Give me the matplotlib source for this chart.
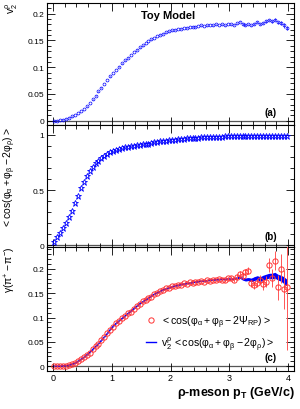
import matplotlib
import numpy as np

matplotlib.use("Agg")
import matplotlib.pyplot as plt
from matplotlib.lines import Line2D
from matplotlib.ticker import MultipleLocator, FuncFormatter


# bin centres in rho-meson pT (GeV/c), 0.05 wide
pt = np.arange(80) * 0.05 + 0.025

v2_rho = [
    0.000, 0.000, 0.001, 0.002, 0.004, 0.006, 0.008, 0.011, 0.014, 0.018,
    0.022, 0.027, 0.033, 0.040, 0.047, 0.055, 0.062, 0.069, 0.076, 0.083,
    0.089, 0.095, 0.101, 0.107, 0.113, 0.118, 0.123, 0.128, 0.133, 0.137,
    0.141, 0.145, 0.149, 0.152, 0.155, 0.158, 0.161, 0.163, 0.165, 0.167,
    0.169, 0.170, 0.171, 0.172, 0.173, 0.174, 0.175, 0.176, 0.176, 0.177,
    0.178, 0.177, 0.178, 0.179, 0.178, 0.180, 0.179, 0.180, 0.178, 0.181,
    0.180, 0.179, 0.182, 0.185, 0.181, 0.179, 0.180, 0.178, 0.181, 0.184,
    0.180, 0.183, 0.186, 0.188, 0.186, 0.189, 0.184, 0.182, 0.178, 0.173,
]
v2_err = [0.0005] * 60 + [
    0.001, 0.001, 0.001, 0.001, 0.0015, 0.0015, 0.0015, 0.0015, 0.002, 0.002,
    0.002, 0.002, 0.0025, 0.0025, 0.003, 0.003, 0.003, 0.0035, 0.004, 0.004,
]

cos_rho = [
    0.030, 0.072, 0.110, 0.155, 0.200, 0.255, 0.315, 0.380, 0.450, 0.515,
    0.575, 0.630, 0.675, 0.712, 0.742, 0.768, 0.792, 0.812, 0.828, 0.842,
    0.854, 0.864, 0.873, 0.880, 0.887, 0.893, 0.898, 0.902, 0.906, 0.910,
    0.914, 0.918, 0.922, 0.928, 0.934, 0.939, 0.943, 0.946, 0.949, 0.952,
    0.955, 0.958, 0.961, 0.964, 0.966, 0.968, 0.970, 0.972, 0.974, 0.976,
    0.977, 0.979, 0.980, 0.981, 0.982, 0.983, 0.984, 0.985, 0.986, 0.987,
    0.987, 0.988, 0.988, 0.989, 0.989, 0.990, 0.990, 0.990, 0.991, 0.991,
    0.991, 0.992, 0.992, 0.992, 0.993, 0.993, 0.993, 0.993, 0.994, 0.994,
]

gamma_calc = [
    0.000, 0.000, 0.000, 0.001, 0.001, 0.002, 0.004, 0.006, 0.010, 0.014,
    0.018, 0.023, 0.028, 0.034, 0.040, 0.046, 0.053, 0.060, 0.067, 0.075,
    0.082, 0.088, 0.093, 0.098, 0.103, 0.108, 0.113, 0.118, 0.123, 0.128,
    0.132, 0.136, 0.140, 0.144, 0.148, 0.151, 0.154, 0.157, 0.159, 0.161,
    0.163, 0.165, 0.166, 0.168, 0.169, 0.170, 0.171, 0.172, 0.173, 0.174,
    0.175, 0.175, 0.176, 0.177, 0.177, 0.178, 0.178, 0.179, 0.178, 0.180,
    0.179, 0.179, 0.181, 0.183, 0.180, 0.178, 0.179, 0.177, 0.180, 0.182,
    0.179, 0.182, 0.184, 0.186, 0.185, 0.187, 0.183, 0.181, 0.177, 0.172,
]
gamma_calc_err = [0.0008] * 62 + [
    0.002, 0.002, 0.003, 0.003, 0.003, 0.004, 0.004, 0.004, 0.005, 0.005,
    0.005, 0.005, 0.006, 0.006, 0.006, 0.006, 0.007, 0.007,
]

gamma_rp = [
    0.000, 0.000, 0.000, 0.000, 0.001, 0.002, 0.004, 0.007, 0.010, 0.014,
    0.019, 0.023, 0.028, 0.035, 0.041, 0.046, 0.054, 0.060, 0.068, 0.075,
    0.081, 0.089, 0.093, 0.099, 0.103, 0.109, 0.112, 0.118, 0.124, 0.127,
    0.133, 0.136, 0.141, 0.143, 0.149, 0.150, 0.155, 0.156, 0.160, 0.161,
    0.164, 0.164, 0.167, 0.167, 0.170, 0.169, 0.172, 0.171, 0.174, 0.173,
    0.176, 0.174, 0.177, 0.176, 0.178, 0.177, 0.179, 0.178, 0.177, 0.181,
    0.181, 0.178, 0.184, 0.190, 0.186, 0.193, 0.196, 0.170, 0.166, 0.171,
    0.178, 0.168, 0.174, 0.208, 0.181, 0.217, 0.162, 0.200, 0.158, 0.163,
]
gamma_rp_err = [0.001] * 50 + [
    0.0015, 0.0015, 0.0015, 0.002, 0.002, 0.002, 0.0025, 0.0025, 0.003, 0.003,
    0.004, 0.004, 0.005, 0.005, 0.006, 0.006, 0.007, 0.008, 0.008, 0.009,
    0.010, 0.011, 0.012, 0.015, 0.018, 0.020, 0.025, 0.030, 0.040, 0.130,
]

plt.rcParams["font.family"] = ["Liberation Sans", "DejaVu Sans"]
plt.rcParams["mathtext.fontset"] = "custom"
plt.rcParams["mathtext.rm"] = "Liberation Sans"
plt.rcParams["mathtext.it"] = "Liberation Sans:italic"
plt.rcParams["mathtext.bf"] = "Liberation Sans:bold"

W, H = 300, 410
fig = plt.figure(figsize=(W / 100, H / 100), dpi=100, facecolor="white")


def px_axes(top, bottom):
    return fig.add_axes([47 / W, 1 - bottom / H, (294 - 47) / W, (bottom - top) / H])


ax_a = px_axes(4, 126)
ax_b = px_axes(126, 248)
ax_c = px_axes(248, 372)

fmt = FuncFormatter(lambda v, p: "%g" % round(v, 4))

for ax, ylim, major, minor in [
    (ax_a, (-0.008, 0.22), 0.05, 0.01),
    (ax_b, (-0.015, 1.09), 0.5, 0.1),
    (ax_c, (-0.01, 0.245), 0.05, 0.01),
]:
    ax.set_xlim(-0.1, 4.1)
    ax.set_ylim(*ylim)
    ax.axhline(0, color="#555555", lw=0.9, zorder=1)
    ax.xaxis.set_major_locator(MultipleLocator(1))
    ax.xaxis.set_minor_locator(MultipleLocator(0.2))
    ax.yaxis.set_major_locator(MultipleLocator(major))
    ax.yaxis.set_minor_locator(MultipleLocator(minor))
    ax.yaxis.set_major_formatter(fmt)
    ax.tick_params(which="both", direction="in", top=True, right=True, width=0.6,
                   labelsize=6, pad=2, colors="black")
    ax.tick_params(which="major", length=6)
    ax.tick_params(which="minor", length=3)
    for s in ax.spines.values():
        s.set_linewidth(0.8)
    if ax is not ax_c:
        ax.tick_params(labelbottom=False)

# (a) v2 of the rho
ax_a.errorbar(pt, v2_rho, yerr=v2_err, fmt="o", ms=2.1, mfc="none", mec="blue",
              mew=0.5, ecolor="blue", elinewidth=0.5, capsize=0, zorder=3)
ax_a.text(0.38, 0.90, "Toy Model", transform=ax_a.transAxes, fontsize=8,
          fontweight="bold", ha="left", va="center")
ax_a.text(0.93, 0.107, "(a)", transform=ax_a.transAxes, fontsize=7,
          fontweight="bold", ha="right", va="center")

# (b) <cos(phi_a + phi_b - 2 phi_rho)>
ax_b.plot(pt, cos_rho, linestyle="none", marker="*", ms=4.8, mfc="none",
          mec="blue", mew=0.6, zorder=3)
ax_b.text(0.93, 0.09, "(b)", transform=ax_b.transAxes, fontsize=7,
          fontweight="bold", ha="right", va="center")

# (c) gamma correlator
lo = np.array(gamma_calc) - np.array(gamma_calc_err)
hi = np.array(gamma_calc) + np.array(gamma_calc_err)
ax_c.fill_between(pt, lo, hi, color="blue", lw=0, zorder=2)
ax_c.plot(pt, gamma_calc, color="blue", lw=1.0, zorder=3)
ax_c.errorbar(pt, gamma_rp, yerr=gamma_rp_err, fmt="o", ms=3.8,
              mfc="none", mec="#ff3333", mew=0.7, ecolor="#ff5555",
              elinewidth=0.7, capsize=0, zorder=4)
ax_c.text(0.93, 0.11, "(c)", transform=ax_c.transAxes, fontsize=7,
          fontweight="bold", ha="right", va="center")
ax_c.tick_params(axis="x", labelsize=6.5, pad=1.5)

h_rp = Line2D([], [], linestyle="none", marker="o", ms=3.8, mfc="none",
              mec="#ff3333", mew=0.7)
h_calc = Line2D([], [], color="blue", lw=1.0)
ax_c.legend(
    [h_rp, h_calc],
    [r"$\mathregular{<cos(\varphi_{\alpha} + \varphi_{\beta} - 2\Psi_{RP})>}$",
     r"$\mathregular{v_{2}^{\rho}\,<cos(\varphi_{\alpha} + \varphi_{\beta} - 2\varphi_{\rho})>}$"],
    loc="center left", bbox_to_anchor=(0.385, 0.31), frameon=False, fontsize=7.6,
    handlelength=0.9, handletextpad=0.5, labelspacing=0.35, borderaxespad=0,
)

# axis titles, ROOT style (aligned at the axis end)
fig.text(12 / W, 1 - 3 / H, r"$\mathregular{v_{2}^{\rho}}$", rotation=90,
         ha="center", va="top", fontsize=7.5)
fig.text(10 / W, 1 - 127 / H,
         r"$\mathregular{<cos(\varphi_{\alpha} + \varphi_{\beta} - 2\varphi_{\rho})>}$",
         rotation=90, ha="center", va="top", fontsize=7.5)
fig.text(10 / W, 1 - 246 / H, r"$\mathregular{\gamma(\pi^{+}-\pi^{-})}$",
         rotation=90, ha="center", va="top", fontsize=7.5)
fig.text(295 / W, 1 - 393 / H, r"ρ-meson p$_{\mathbf{T}}$ (GeV/c)",
         ha="right", va="center", fontsize=9, fontweight="bold")

fig.savefig("out.png", dpi=100, facecolor="white")
